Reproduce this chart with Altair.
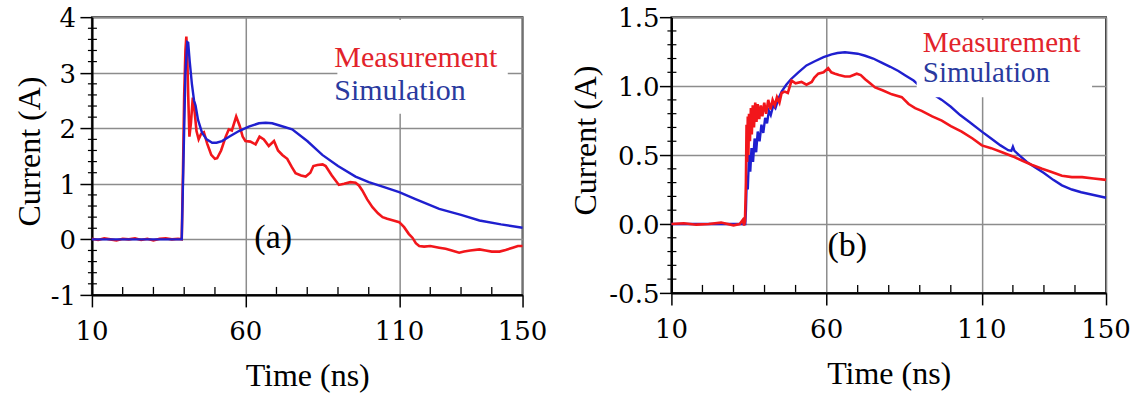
import altair as alt
import pandas as pd

# ---------------- data: panel (a) ----------------
a_meas_t = [10, 12, 14, 16, 18, 20, 22, 24, 26, 28, 30, 32, 34, 36, 38, 39.2,
            39.6, 40.0, 40.4, 40.7, 41.0, 41.3, 41.7, 42.2, 42.8, 43.3, 44.0, 44.7, 45.5, 46.4,
            47.5, 48.8, 50.0, 50.7, 52.0, 53.5, 54.5, 55.5, 56.9, 58.0, 59.0, 59.9, 61.5, 63.2,
            64.5, 65.9, 67.5, 69.2, 70.5, 71.9, 73.5, 75.0, 76.2, 78.0, 79.5, 81.0, 82.0, 83.3,
            85.0, 86.0, 88.0, 90.3, 92.0, 94.0, 95.7, 96.8, 97.9, 99.5, 101.2, 103.0, 104.5,
            106.0, 108.0, 109.9, 111.5, 113.0, 114.2, 115.3, 116.4, 118.0, 120.0, 122.9, 125.0,
            127.0, 129.4, 131.0, 133.0, 136.0, 138.0, 140.0, 142.5, 144.5, 146.8, 148.5, 150.0]
a_meas_v = [0.01, -0.01, 0.02, 0.0, -0.02, 0.01, 0.0, 0.02, -0.01, 0.01, -0.02, 0.01, 0.02, 0.0, 0.01, 0.0,
            1.2, 2.6, 3.4, 3.65, 3.3, 2.6, 1.85, 2.1, 2.55, 2.35, 1.95, 1.8, 1.9, 1.93,
            1.72, 1.52, 1.45, 1.46, 1.6, 1.85, 1.98, 1.96, 2.21, 2.05, 1.85, 1.77, 1.76, 1.71,
            1.85, 1.8, 1.68, 1.77, 1.6, 1.52, 1.45, 1.3, 1.19, 1.15, 1.13, 1.2, 1.32, 1.34,
            1.35, 1.32, 1.15, 0.98, 1.0, 1.03, 1.02, 0.97, 0.88, 0.72, 0.58, 0.47, 0.4,
            0.37, 0.34, 0.31, 0.22, 0.1, 0.03, -0.07, -0.12, -0.13, -0.12, -0.15, -0.17,
            -0.2, -0.24, -0.22, -0.2, -0.18, -0.2, -0.22, -0.22, -0.19, -0.15, -0.12, -0.12]
a_sim_t = [10, 39.2, 39.8, 40.4, 41.0, 41.3, 41.8, 42.5, 43.2, 43.7, 44.5, 45.8, 47.3, 49.1,
           50.5, 52.3, 55.0, 57.8, 61.0, 64.3, 66.5, 68.6, 71.0, 75.1, 80.0, 84.9, 90.0, 95.7,
           100.0, 105.0, 109.9, 115.0, 122.9, 130.0, 136.0, 143.0, 150.0]
a_sim_v = [0.0, 0.0, 1.5, 3.0, 3.55, 3.54, 3.2, 2.8, 2.5, 2.41, 2.15, 1.92, 1.8, 1.74,
           1.74, 1.77, 1.86, 1.95, 2.03, 2.09, 2.1, 2.09, 2.05, 1.98, 1.77, 1.52, 1.32, 1.13,
           1.03, 0.94, 0.85, 0.73, 0.55, 0.44, 0.34, 0.27, 0.21]

# ---------------- data: panel (b) ----------------
b_meas_t = [10, 14, 18, 22, 26, 30, 32, 33.0, 33.4, 33.7,
            34.0, 34.2, 34.4, 34.6, 34.8, 35.0, 35.3, 35.6, 35.9, 36.2, 36.6, 37.0, 37.4, 37.8,
            38.3, 38.8, 39.3, 39.9, 40.5, 41.2, 41.9, 42.6, 43.3, 44.0, 44.8, 45.5, 46.5, 47.5,
            48.7, 50.0, 51.9, 53.5, 55.2, 56.0, 57.3, 59.0, 60.5, 61.5, 62.7, 64.0, 65.9, 67.5,
            69.7, 71.0, 72.4, 74.0, 75.6, 78.0, 81.0, 84.2, 86.4, 88.5, 90.6, 94.0, 97.1, 100.0,
            103.5, 107.0, 110.0, 113.0, 116.5, 120.0, 122.9, 126.0, 129.4, 132.0, 135.8, 139.0,
            142.3, 146.0, 150.0]
b_meas_v = [0.0, 0.005, -0.005, 0.0, 0.01, -0.01, 0.0, 0.03, -0.01, 0.02,
            0.3, 0.72, 0.45, 0.78, 0.5, 0.8, 0.6, 0.84, 0.65, 0.86, 0.7, 0.88, 0.74, 0.87,
            0.76, 0.86, 0.78, 0.88, 0.8, 0.9, 0.83, 0.9, 0.86, 0.92, 0.88, 0.95, 0.96, 0.95,
            1.04, 1.02, 1.03, 1.01, 1.03, 1.06, 1.09, 1.1, 1.13, 1.1, 1.09, 1.08, 1.07, 1.07,
            1.09, 1.08, 1.05, 1.02, 0.99, 0.97, 0.94, 0.92, 0.87, 0.84, 0.82, 0.78, 0.75, 0.71,
            0.67, 0.62, 0.57, 0.55, 0.52, 0.49, 0.46, 0.43, 0.4, 0.38, 0.35, 0.34,
            0.34, 0.33, 0.32]
b_sim_t = [10, 33.8, 34.0, 34.3, 34.6, 35.0, 35.4, 35.8, 36.3, 36.8, 37.3, 37.8, 38.4, 39.0,
           39.6, 40.2, 40.8, 41.4, 42.0, 42.8, 43.5, 44.5, 45.5, 47.0, 48.5, 50.9, 53.5, 56.2,
           59.0, 61.6, 63.5, 65.9, 68.0, 70.0, 72.4, 75.0, 77.7, 80.5, 83.1, 85.5, 88.0, 90.0,
           93.0, 97.1, 100.0, 103.0, 106.0, 110.0, 113.0, 116.0, 118.5, 119.5, 120.0, 120.5,
           122.0, 124.5, 127.2, 130.0, 133.0, 135.8, 139.0, 142.0, 146.0, 150.0]
b_sim_v = [0.0, 0.0, 0.1, 0.35, 0.25, 0.5, 0.38, 0.55, 0.45, 0.62, 0.52, 0.67, 0.6, 0.72,
           0.66, 0.77, 0.73, 0.82, 0.79, 0.86, 0.84, 0.91, 0.96, 1.01, 1.05, 1.1, 1.15, 1.18,
           1.21, 1.23, 1.24, 1.245, 1.24, 1.235, 1.22, 1.2, 1.17, 1.14, 1.11, 1.075, 1.04, 1.0,
           0.96, 0.9, 0.85, 0.79, 0.74, 0.67, 0.62, 0.57, 0.535, 0.53, 0.56, 0.53,
           0.5, 0.45, 0.41, 0.37, 0.32, 0.28, 0.25, 0.23, 0.21, 0.19]

# ---------------- ticks / labels ----------------
x_ticks = [10, 60, 110, 150]
x_tick_labels = ["10", "60", "110", "150"]
x_minor = [20, 30, 40, 50, 70, 80, 90, 100, 120, 130, 140]
a_y_ticks = [-1, 0, 1, 2, 3, 4]
a_y_tick_labels = ["-1", "0", "1", "2", "3", "4"]
a_y_minor = [round(-1 + 0.2 * i, 1) for i in range(26) if i % 5 != 0]
b_y_ticks = [-0.5, 0.0, 0.5, 1.0, 1.5]
b_y_tick_labels = ["-0.5", "0.0", "0.5", "1.0", "1.5"]
b_y_minor = [round(-0.5 + 0.1 * i, 1) for i in range(21) if i % 5 != 0]

FONT = "Liberation Serif"
NUMFONT = "DejaVu Serif"
RED = "#f2161b"
BLUE = "#1f1fcf"
RED_TXT = "#e2232b"
BLUE_TXT = "#2a3a9e"
GRID = "#8c8c8c"


def panel(meas_t, meas_v, sim_t, sim_v, ydom, yticks, ylabels, yminor, w, h,
          title_x, title_y, ylab_x, box, leg_x, leg_y1, leg_y2, leg_fs,
          tag, tag_x, tag_y, red_on_top):
    xs = alt.Scale(domain=[10, 150], nice=False, zero=False)
    ys = alt.Scale(domain=ydom, nice=False, zero=False)
    xaxis = alt.Axis(values=x_ticks, labels=False, title="Time (ns)", grid=True,
                     gridColor=GRID, gridWidth=1.5, domainColor="black", domainWidth=2.2,
                     tickColor="black", tickSize=12, tickWidth=1.5,
                     titleFont=FONT, titleFontSize=32, titleFontWeight="normal",
                     titleColor="black", titleBaseline="alphabetic", titleY=91)
    yaxis = alt.Axis(values=yticks, labels=False, title="Current (A)", grid=True,
                     gridColor=GRID, gridWidth=1.5, domainColor="black", domainWidth=2.2,
                     tickColor="black", tickSize=12, tickWidth=1.5,
                     titleFont=FONT, titleFontSize=32, titleFontWeight="normal",
                     titleColor="black", titleAngle=-90, titleAlign="center",
                     titleBaseline="middle", titleX=title_x, titleY=title_y)

    meas = pd.DataFrame({"t": meas_t, "v": meas_v})
    sim = pd.DataFrame({"t": sim_t, "v": sim_v})

    meas_line = alt.Chart(meas).mark_line(color=RED, strokeWidth=2.6).encode(
        x=alt.X("t:Q", scale=xs, axis=xaxis), y=alt.Y("v:Q", scale=ys, axis=yaxis))
    sim_line = alt.Chart(sim).mark_line(color=BLUE, strokeWidth=2.4).encode(
        x=alt.X("t:Q", scale=xs, axis=xaxis), y=alt.Y("v:Q", scale=ys, axis=yaxis))

    ymin = alt.Chart(pd.DataFrame({"v": yminor})).mark_rule(
        color="black", strokeWidth=1.2).encode(
        y=alt.Y("v:Q", scale=ys, axis=yaxis), x=alt.value(-4), x2=alt.value(5))
    xmin = alt.Chart(pd.DataFrame({"t": x_minor})).mark_rule(
        color="black", strokeWidth=1.3).encode(
        x=alt.X("t:Q", scale=xs, axis=xaxis), y=alt.value(h - 1), y2=alt.value(h - 8))

    xlab = alt.Chart(pd.DataFrame({"t": x_ticks, "lab": x_tick_labels})).mark_text(
        font=NUMFONT, fontSize=26, color="black", align="center",
        baseline="alphabetic").encode(
        x=alt.X("t:Q", scale=xs, axis=xaxis), y=alt.value(h + 45), text="lab:N")
    ylab = alt.Chart(pd.DataFrame({"v": yticks, "lab": ylabels})).mark_text(
        font=NUMFONT, fontSize=26, color="black", align="right",
        baseline="alphabetic", dy=10).encode(
        y=alt.Y("v:Q", scale=ys, axis=yaxis), x=alt.value(ylab_x), text="lab:N")

    rect = alt.Chart(pd.DataFrame({"k": [0]})).mark_rect(color="white").encode(
        x=alt.datum(box[0]), x2=alt.datum(box[1]),
        y=alt.datum(box[2]), y2=alt.datum(box[3]))

    t1 = alt.Chart(pd.DataFrame({"k": [0]})).mark_text(
        align="left", baseline="alphabetic", font=FONT, fontSize=leg_fs,
        color=RED_TXT).encode(x=alt.datum(leg_x), y=alt.datum(leg_y1),
                              text=alt.value("Measurement"))
    t2 = alt.Chart(pd.DataFrame({"k": [0]})).mark_text(
        align="left", baseline="alphabetic", font=FONT, fontSize=leg_fs,
        color=BLUE_TXT).encode(x=alt.datum(leg_x), y=alt.datum(leg_y2),
                               text=alt.value("Simulation"))
    t3 = alt.Chart(pd.DataFrame({"k": [0]})).mark_text(
        align="left", baseline="alphabetic", font=FONT, fontSize=34,
        color="black").encode(x=alt.datum(tag_x), y=alt.datum(tag_y),
                              text=alt.value(tag))

    lines = [sim_line, meas_line] if red_on_top else [meas_line, sim_line]
    return alt.layer(*lines, ymin, xmin, xlab, ylab, rect, t1, t2, t3).properties(
        width=w, height=h)


left = panel(a_meas_t, a_meas_v, a_sim_t, a_sim_v, [-1, 4], a_y_ticks, a_y_tick_labels,
             a_y_minor, 431, 278, -62, 134, -16, [89.8, 145.2, 3.95, 2.26], 88.8, 3.10,
             2.50, 30, "(a)", 62.8, -0.15, False)
right = panel(b_meas_t, b_meas_v, b_sim_t, b_sim_v, [-0.5, 1.5], b_y_ticks, b_y_tick_labels,
              b_y_minor, 435, 276, -86, 123, -12, [89.0, 145.5, 1.48, 0.92], 91.0, 1.248,
              1.031, 29, "(b)", 60.3, -0.233, True)

chart = alt.hconcat(left, right, spacing=149, bounds="flush").configure_view(
    stroke="#333333", strokeWidth=2).properties(
    padding={"left": 12, "top": 5, "right": 5, "bottom": 5}, background="white")

chart.save("out.html", embed_options={"renderer": "svg", "actions": False})
